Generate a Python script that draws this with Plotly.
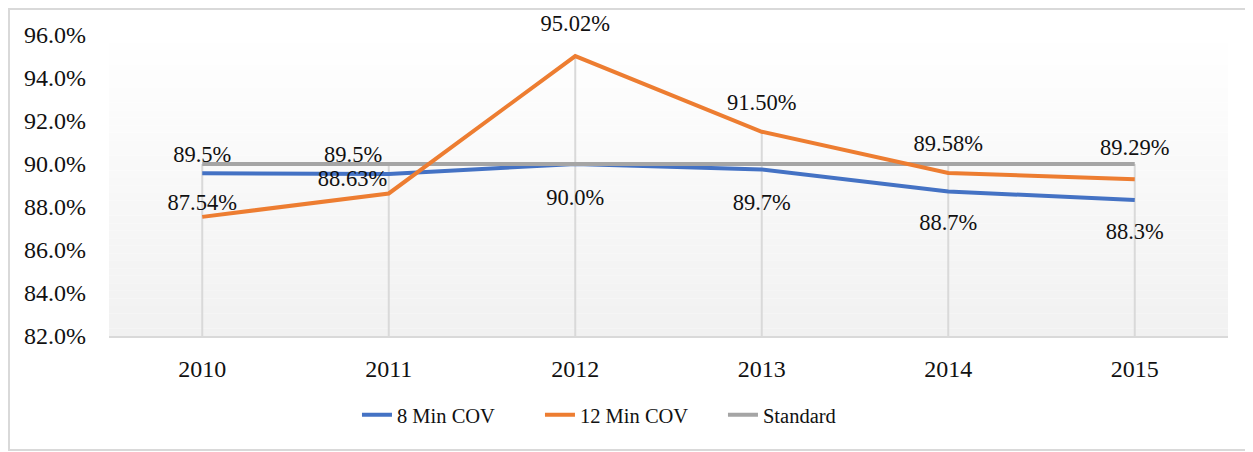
import plotly.graph_objects as go

# data
years = ['2010', '2011', '2012', '2013', '2014', '2015']
cov8 = [89.57, 89.54, 90.0, 89.75, 88.72, 88.33]
cov8_text = ['89.5%', '89.5%', '90.0%', '89.7%', '88.7%', '88.3%']
cov12 = [87.54, 88.63, 95.02, 91.50, 89.58, 89.29]
cov12_text = ['87.54%', '88.63%', '95.02%', '91.50%', '89.58%', '89.29%']
standard = [90.0, 90.0, 90.0, 90.0, 90.0, 90.0]
y_min, y_max = 82, 96
y_ticks = [82, 84, 86, 88, 90, 92, 94, 96]
y_tick_labels = ['82.0%', '84.0%', '86.0%', '88.0%', '90.0%', '92.0%', '94.0%', '96.0%']

# label placement (excel put them at slightly different distances from the line)
cov8_pos = ['top center', 'top left', 'bottom center', 'bottom center', 'bottom center', 'bottom center']
cov8_gap = [7, 9, 37, 37, 33, 34]        # invisible marker size -> text offset
cov12_pos = ['top center', 'top left', 'top center', 'top center', 'top center', 'top center']
cov12_gap = [1, 1, 30, 25, 25, 28]

FONT = 'Liberation Serif'
TXT = '#111111'
# the page body adds 8px margin, so the figure is 8px smaller than the window
W, H = 1245, 444
ML, MR, MT, MB = 101, 25, 27, 116

fig = go.Figure()

# drop lines from the highest point of each year down to the axis
drop_x, drop_y = [], []
for i, yr in enumerate(years):
    drop_x += [yr, yr, None]
    drop_y += [max(cov8[i], cov12[i], standard[i]), y_min, None]
fig.add_trace(go.Scatter(x=drop_x, y=drop_y, mode='lines', showlegend=False, hoverinfo='skip',
                         line=dict(color='#d9d9d9', width=2)))

no_marker = dict(color='rgba(0,0,0,0)', line=dict(width=0, color='rgba(0,0,0,0)'))
fig.add_trace(go.Scatter(x=years, y=cov8, mode='lines+markers+text', name='8 Min COV', legendrank=1,
                         line=dict(color='#4472C4', width=4),
                         marker=dict(size=cov8_gap, **no_marker),
                         text=cov8_text, textposition=cov8_pos, cliponaxis=False,
                         textfont=dict(family=FONT, size=22.5, color=TXT)))
fig.add_trace(go.Scatter(x=years, y=standard, mode='lines', name='Standard', legendrank=3,
                         line=dict(color='#A5A5A5', width=4)))
fig.add_trace(go.Scatter(x=years, y=cov12, mode='lines+markers+text', name='12 Min COV', legendrank=2,
                         line=dict(color='#ED7D31', width=4),
                         marker=dict(size=cov12_gap, **no_marker),
                         text=cov12_text, textposition=cov12_pos, cliponaxis=False,
                         textfont=dict(family=FONT, size=22.5, color=TXT)))

# plot area gradient, white at top to light grey at bottom
n = 40
shapes = []
for i in range(n):
    t = (i + 0.5) / n  # 0 at bottom
    c = int(round(241 + (255 - 241) * t))
    shapes.append(dict(type='rect', xref='x domain', yref='y domain',
                       x0=0, x1=1, y0=i / n, y1=(i + 1) / n,
                       fillcolor='rgb(%d,%d,%d)' % (c, c, c), line=dict(width=0), layer='below'))

# outer chart border (right side runs off the picture like in the original)
pw = W - ML - MR
ph = H - MT - MB
shapes.append(dict(type='rect', xref='paper', yref='paper',
                   x0=(1 - ML) / pw, x1=(1300 - ML) / pw,
                   y0=(H - MB - 442) / ph, y1=(H - MB - 1) / ph,
                   line=dict(color='#d9d9d9', width=2), fillcolor='rgba(0,0,0,0)', layer='below'))

fig.update_layout(
    width=W, height=H,
    margin=dict(l=ML, r=MR, t=MT, b=MB),
    paper_bgcolor='white', plot_bgcolor='white',
    font=dict(family=FONT, size=24, color=TXT),
    shapes=shapes,
    showlegend=True,
    legend=dict(orientation='h', x=0.2216, xanchor='left', y=-0.262, yanchor='middle',
                font=dict(family=FONT, size=20.5, color=TXT), entrywidth=138, traceorder='normal'),
)
fig.update_xaxes(type='category', range=[-0.5, 5.5], showgrid=False,
                 showline=True, linecolor='#d9d9d9', linewidth=2, ticks='', ticklabelstandoff=10,
                 zeroline=False, tickfont=dict(family=FONT, size=24, color=TXT))
fig.update_yaxes(range=[y_min, y_max], tickvals=y_ticks, ticktext=y_tick_labels, showgrid=False,
                 showline=False, zeroline=False, ticks='', ticklabelstandoff=22,
                 tickfont=dict(family=FONT, size=24, color=TXT))

fig.write_html("out.html")
